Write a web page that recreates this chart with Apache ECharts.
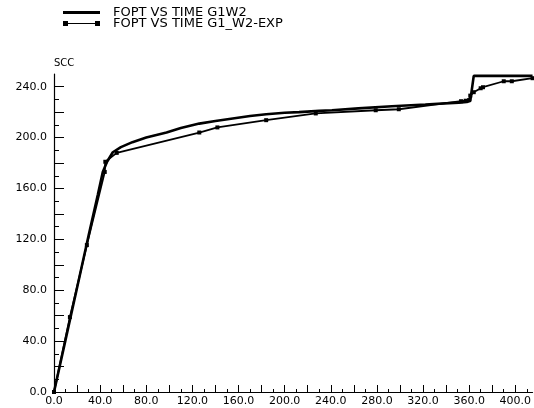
<!DOCTYPE html>
<html>
<head>
<meta charset="utf-8">
<style>
  html, body { margin: 0; padding: 0; background: #fff; }
  #chart { width: 534px; height: 408px; }
</style>
<script src="https://cdn.jsdelivr.net/npm/echarts@6/dist/echarts.min.js"></script>
</head>
<body>
<div id="chart"></div>
<script>
// Simulated field oil production total (G1W2)
const simTime  = [0, 10, 20, 30, 38, 42.3, 46, 51, 58, 68, 80, 97.6, 110, 126, 140, 155, 170, 184, 200, 212.5, 230, 241, 264, 293, 322, 351, 358, 361, 364, 390, 415];
const simFopt  = [0, 41, 82, 123, 155, 173, 181, 188.5, 192.5, 196.4, 200, 204, 207.5, 211, 213, 215, 217, 218.4, 219.5, 220, 221, 221.5, 223, 224.7, 226, 227.5, 228, 229, 248.5, 248.5, 248.5];

// Observed history (G1_W2-EXP)
const expTime  = [0, 13.8, 28.5, 44, 44.5, 54.4, 126, 141.7, 184, 227, 279, 299, 353, 357, 360, 361, 364, 370, 372, 390, 397, 415];
const expFopt  = [0, 58.9, 115.5, 173, 181, 188, 204, 208, 213.7, 219, 221.5, 222.3, 228.6, 229, 229.5, 233, 235.7, 238.8, 239.6, 244.3, 244.3, 246.7];

const seriesNames = ['FOPT VS TIME G1W2', 'FOPT VS TIME G1_W2-EXP'];
const yAxisName = 'SCC';

// tick positions
const xMinor = [];
for (let v = 0; v <= 410; v += 10) xMinor.push(v);
const xMajor = [0, 20, 40, 60, 80, 100, 120, 140, 160, 180, 200, 220, 240, 260, 280, 300, 320, 340, 360, 380, 400];
const xLabels = [0, 40, 80, 120, 160, 200, 240, 280, 320, 360, 400];
const yMinor = [0, 10, 20, 30, 40, 50, 60, 70, 80, 90, 100, 110, 120, 130, 140, 150, 160, 170, 180, 190, 200, 210, 220, 230, 240];
const yMajor = [0, 20, 40, 60, 80, 100, 120, 140, 160, 180, 200, 220, 240];
const yLabels = [0, 40, 80, 120, 160, 200, 240];

const pair = (xs, ys) => xs.map((x, i) => [x, ys[i]]);

const font = 'DejaVu Sans';
const chart = echarts.init(document.getElementById('chart'), null, { renderer: 'canvas' });

const legendText = { fontFamily: font, fontSize: 13, color: '#000', padding: [0, 0, 0, 8] };
const tickLine = { color: '#000', width: 1 };
const fmt = v => v.toFixed(1);

chart.setOption({
  backgroundColor: '#ffffff',
  animation: false,
  legend: [
    {
      data: [{ name: seriesNames[0], icon: 'path://M0,0 L37,0 L37,3 L0,3 Z' }],
      left: 63, top: 6, padding: 0,
      itemWidth: 37, itemHeight: 3,
      textStyle: legendText,
      selectedMode: false
    },
    {
      data: [{ name: seriesNames[1], icon: 'path://M0,0 L5,0 L5,2 L32,2 L32,0 L37,0 L37,5 L32,5 L32,3 L5,3 L5,5 L0,5 Z' }],
      left: 63, top: 17, padding: 0,
      itemWidth: 37, itemHeight: 5,
      textStyle: legendText,
      selectedMode: false
    }
  ],
  grid: { left: 54, right: 0, top: 74, bottom: 16, containLabel: false },
  xAxis: [
    {
      type: 'value',
      min: 0, max: 415, interval: 10,
      axisLine: { show: true, lineStyle: { color: '#000', width: 1.2 } },
      axisTick: { show: true, inside: true, length: 3, customValues: xMinor, lineStyle: tickLine },
      splitLine: { show: false },
      axisLabel: { show: false }
    },
    {
      type: 'value',
      position: 'bottom',
      offset: 0,
      min: 0, max: 415, interval: 10,
      axisLine: { show: false },
      axisTick: { show: true, inside: true, length: 7, customValues: xMajor, lineStyle: tickLine },
      splitLine: { show: false },
      axisLabel: {
        fontFamily: font, fontSize: 11, color: '#000', margin: 4,
        customValues: xLabels,
        formatter: fmt
      }
    }
  ],
  yAxis: [
    {
      type: 'value',
      position: 'left',
      min: 0, max: 250, interval: 10,
      name: yAxisName, nameLocation: 'end', nameGap: 6,
      nameTextStyle: { fontFamily: font, fontSize: 10, color: '#000', align: 'left' },
      axisLine: { show: true, lineStyle: { color: '#000', width: 1.2 } },
      axisTick: { show: true, inside: true, length: 5, customValues: yMinor, lineStyle: tickLine },
      splitLine: { show: false },
      axisLabel: { show: false }
    },
    {
      type: 'value',
      position: 'left',
      offset: 0,
      min: 0, max: 250, interval: 10,
      axisLine: { show: false },
      axisTick: { show: true, inside: true, length: 10, customValues: yMajor, lineStyle: tickLine },
      splitLine: { show: false },
      axisLabel: {
        fontFamily: font, fontSize: 11, color: '#000', margin: 7,
        customValues: yLabels,
        formatter: fmt
      }
    }
  ],
  series: [
    {
      name: seriesNames[0],
      type: 'line',
      xAxisIndex: 0,
      yAxisIndex: 0,
      data: pair(simTime, simFopt),
      showSymbol: false,
      symbol: 'none',
      lineStyle: { color: '#000', width: 2.6 },
      itemStyle: { color: '#000' }
    },
    {
      name: seriesNames[1],
      type: 'line',
      xAxisIndex: 0,
      yAxisIndex: 0,
      data: pair(expTime, expFopt),
      symbol: 'rect',
      symbolSize: 4,
      lineStyle: { color: '#000', width: 1.8 },
      itemStyle: { color: '#000' }
    }
  ]
});
</script>
</body>
</html>
